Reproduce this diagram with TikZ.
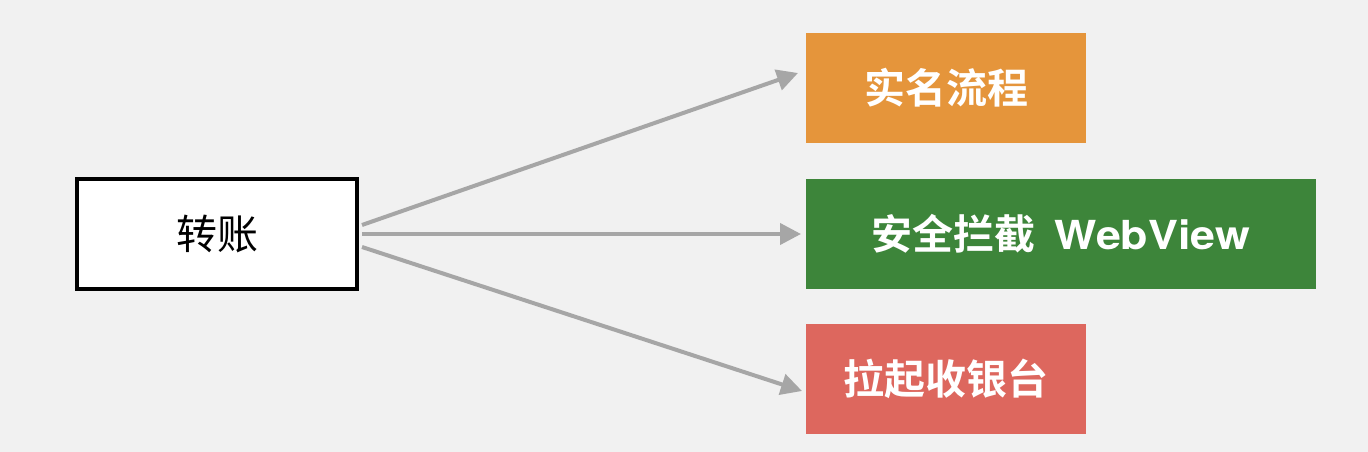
\documentclass[tikz,border=0pt]{standalone}
\usepackage{fontspec}
\newfontfamily\cjk{Noto Sans CJK SC}
\newfontfamily\cjkb{Noto Sans CJK SC Bold}
\newfontfamily\heros[FakeStretch=1.12]{TeX Gyre Heros}
\usetikzlibrary{arrows.meta}
\definecolor{bg}{HTML}{F1F1F1}
\definecolor{orangebox}{HTML}{E5953B}
\definecolor{greenbox}{HTML}{3D853A}
\definecolor{redbox}{HTML}{DD675E}
\definecolor{arrowgray}{HTML}{A6A6A6}
\tikzset{
  srcbox/.style={draw=black, line width=4pt, fill=white, minimum width=280pt, minimum height=110pt, inner sep=0pt, font=\cjk\fontsize{41}{48}\selectfont},
  tgtbox/.style={minimum height=110pt, inner sep=0pt, text=white, font=\cjkb\fontsize{41}{48}\selectfont},
  conn/.style={draw=arrowgray, line width=4pt, -{Triangle[length=21pt,width=21pt]}},
}
\begin{document}
\begin{tikzpicture}[x=1pt,y=-1pt]
\fill[bg] (0,0) rectangle (1368,452);
\useasboundingbox (0,0) rectangle (1368,452);
\node[srcbox] (src) at (217,234) {转账};
\node[tgtbox, fill=orangebox, minimum width=280pt] (t1) at (946,88) {实名流程};
\node[tgtbox, fill=greenbox, minimum width=510pt] (t2) at (1061,234) {安全拦截\hspace{19pt}{\heros\bfseries\fontsize{40}{48}\selectfont WebView}};
\node[tgtbox, fill=redbox, minimum width=280pt] (t3) at (946,379) {拉起收银台};
\coordinate (s1) at (362,225);
\coordinate (s2) at (362,234);
\coordinate (s3) at (362,247);
\coordinate (e1) at (798,73);
\coordinate (e2) at (801,234);
\coordinate (e3) at (802,391);
\draw[conn] (s1) -- (e1);
\draw[conn] (s2) -- (e2);
\draw[conn] (s3) -- (e3);
\end{tikzpicture}
\end{document}
